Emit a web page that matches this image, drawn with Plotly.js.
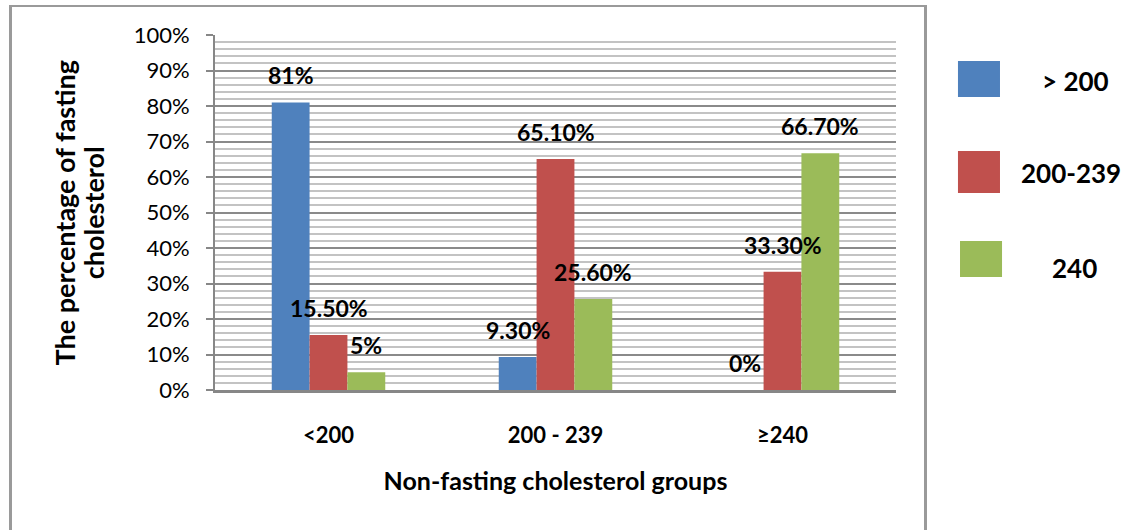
<!DOCTYPE html>
<html>
<head>
<meta charset="utf-8">
<script src="https://cdn.plot.ly/plotly-3.0.1.min.js"></script>
<style>
  html, body { margin: 0; padding: 0; background: #fff; overflow: hidden; }
  #wrap { position: relative; width: 1136px; height: 530px; }
  #chart { position: absolute; left: 0; top: 0; width: 1136px; height: 530px; }
  #frame {
    position: absolute; left: 9px; top: 5px; width: 912px; height: 600px;
    border: 2px solid #9a9a9a; border-bottom: none; border-left-width: 3px; border-right-width: 3px;
    pointer-events: none;
  }
</style>
</head>
<body>
<div id="wrap">
  <div id="chart"></div>
  <div id="frame"></div>
</div>
<script>
// Non-fasting cholesterol groups (x categories)
const categories = ['<200', '200 - 239', '≥240'];

// Fasting cholesterol series (percent of each group)
const seriesNames = ['> 200', '200-239', '240'];
const below200 = [81, 9.3, 0];
const from200to239 = [15.5, 65.1, 33.3];
const above240 = [5, 25.6, 66.7];

const seriesValues = [below200, from200to239, above240];
const seriesColors = ['#4F81BD', '#C0504D', '#9BBB59'];

// axis titles
const xTitle = 'Non-fasting cholesterol groups';
const yTitleLines = ['The percentage of fasting', 'cholesterol'];

const FONT = 'Lato, "Open Sans", sans-serif';

const esc = s => s.replace(/&/g, '&amp;').replace(/</g, '&lt;').replace(/>/g, '&gt;');
const fmtPct = v => (Number.isInteger(v) ? String(v) : v.toFixed(2)) + '%';

const traces = seriesValues.map((vals, i) => ({
  type: 'bar',
  name: seriesNames[i],
  x: categories,
  y: vals,
  marker: { color: seriesColors[i], line: { width: 0 } },
  showlegend: false,
  hoverinfo: 'x+y+name'
}));

// value labels, centred over each bar
const nSeries = seriesValues.length;
const barGap = 0.5;
const barW = (1 - barGap) / nSeries;
const annotations = [];
seriesValues.forEach((vals, i) => {
  vals.forEach((v, c) => {
    annotations.push({
      xref: 'x', yref: 'y',
      x: c + (i - (nSeries - 1) / 2) * barW,
      y: v,
      yshift: 27,
      yanchor: 'middle',
      xanchor: 'center',
      showarrow: false,
      text: '<b>' + fmtPct(v) + '</b>',
      font: { family: FONT, size: 23, color: '#000' }
    });
  });
});

// y-axis title, two rotated lines
const yTitleX = [-0.2203, -0.1780];
yTitleLines.forEach((line, k) => {
  annotations.push({
    xref: 'paper', yref: 'paper', x: yTitleX[k], y: 0.5,
    xanchor: 'center', yanchor: 'middle', showarrow: false,
    textangle: -90,
    text: '<b>' + esc(line) + '</b>',
    font: { family: FONT, size: 27, color: '#000' }
  });
});

// legend: large swatches with labels on the right
const legendRows = [
  { sx0: 1.0910, sx1: 1.1527, sy0: 0.8254, sy1: 0.9268, tx: 1.2643, ty: 0.8704 },
  { sx0: 1.0910, sx1: 1.1527, sy0: 0.5549, sy1: 0.6732, tx: 1.2570, ty: 0.6113 },
  { sx0: 1.0940, sx1: 1.1557, sy0: 0.3183, sy1: 0.4197, tx: 1.2628, ty: 0.3437 }
];
const shapes = [];
legendRows.forEach((r, i) => {
  shapes.push({
    type: 'rect', xref: 'paper', yref: 'paper',
    x0: r.sx0, x1: r.sx1, y0: r.sy0, y1: r.sy1,
    fillcolor: seriesColors[i], line: { width: 0 }
  });
  annotations.push({
    xref: 'paper', yref: 'paper', x: r.tx, y: r.ty,
    xanchor: 'center', yanchor: 'middle', showarrow: false,
    text: '<b>' + esc(seriesNames[i]) + '</b>',
    font: { family: FONT, size: 26, color: '#000' }
  });
});

const layout = {
  width: 1136, height: 530,
  margin: { l: 215, r: 240, t: 35, b: 140, pad: 0 },
  paper_bgcolor: '#fff',
  plot_bgcolor: '#fff',
  barmode: 'group',
  bargap: barGap,
  bargroupgap: 0,
  font: { family: FONT, color: '#000' },
  xaxis: {
    type: 'category',
    tickvals: categories,
    ticktext: categories.map(c => '<b>' + esc(c) + '</b>'),
    tickfont: { family: FONT, size: 22, color: '#000' },
    ticks: '',
    ticklabelstandoff: 24,
    showline: true, linecolor: '#878787', linewidth: 3,
    showgrid: false, zeroline: false,
    title: {
      text: '<b>' + esc(xTitle) + '</b>',
      font: { family: FONT, size: 25, color: '#000' },
      standoff: 26
    },
    fixedrange: true
  },
  yaxis: {
    range: [0, 100],
    dtick: 10,
    ticksuffix: '%',
    tickfont: { family: FONT, size: 22, color: '#000' },
    ticks: 'outside', ticklen: 7, tickwidth: 2, tickcolor: '#878787',
    ticklabelstandoff: 12,
    showline: true, linecolor: '#878787', linewidth: 2,
    showgrid: true, gridcolor: '#8a8a8a', gridwidth: 2,
    minor: { dtick: 2, showgrid: true, gridcolor: '#c3c3c3', gridwidth: 2, ticks: '' },
    zeroline: false,
    fixedrange: true
  },
  shapes: shapes,
  annotations: annotations
};

Plotly.newPlot('chart', traces, layout, { displayModeBar: false, staticPlot: true });
</script>
</body>
</html>
